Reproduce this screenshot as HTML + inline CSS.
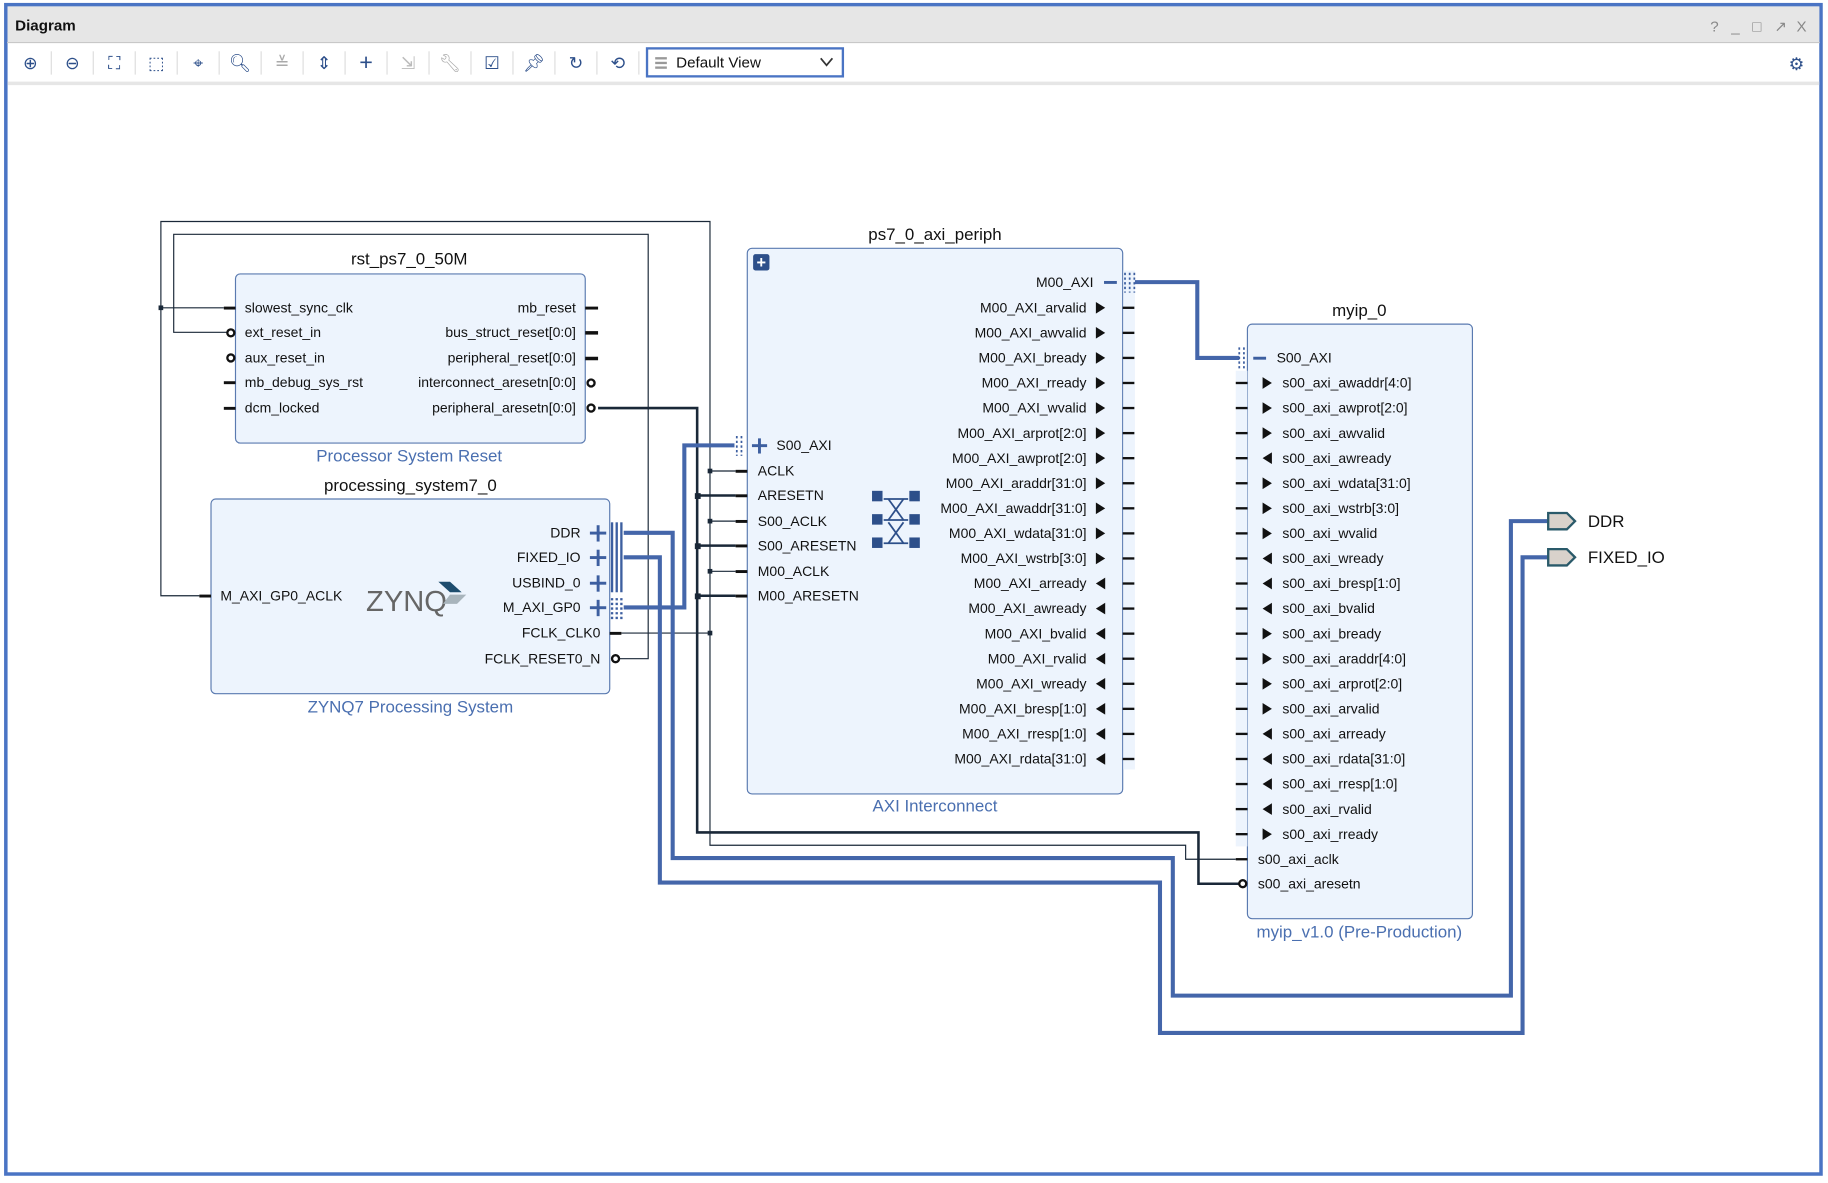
<!DOCTYPE html>
<html><head><meta charset="utf-8"><style>
html,body{margin:0;padding:0;background:#fff;}
svg{display:block;}
text{font-family:"Liberation Sans",sans-serif;}
</style></head><body>
<svg width="1828" height="1183" viewBox="0 0 1568 1014.7" preserveAspectRatio="none" xmlns="http://www.w3.org/2000/svg">
<rect x="0" y="0" width="1568" height="1015" fill="#fff"/>
<!-- window frame -->
<rect x="5" y="4" width="1557" height="1003" fill="#fff" stroke="#4a74c4" stroke-width="3"/>
<rect x="6.5" y="5.5" width="1554" height="31" fill="#e6e6e6"/>
<line x1="6" y1="36.5" x2="1561" y2="36.5" stroke="#c8c8c8"/>
<text x="13" y="26" font-size="13" font-weight="bold" fill="#111">Diagram</text>
<g font-size="13" fill="#888"><text x="1467" y="27">?</text><text x="1485" y="27">_</text><text x="1503" y="27">□</text><text x="1522" y="27">↗</text><text x="1541" y="27">X</text></g>
<rect x="6.5" y="70" width="1554" height="3" fill="#e6e6e6"/>
<!-- toolbar icons -->
<g font-size="15" fill="#2d4f8a" text-anchor="middle">
<text x="26" y="59">⊕</text><text x="62" y="59">⊖</text><text x="98" y="59">⛶</text><text x="134" y="59">⬚</text><text x="170" y="59">⌖</text><text x="206" y="59">🔍︎</text><text x="242" y="59" fill="#aaa">≚</text><text x="278" y="59">⇕</text><text x="314" y="60" font-size="20">+</text><text x="350" y="59" fill="#bbb">⇲</text><text x="386" y="59" fill="#aaa">🔧︎</text><text x="422" y="59">☑</text><text x="458" y="59">📌︎</text><text x="494" y="59">↻</text><text x="530" y="59">⟲</text>
</g>
<g stroke="#ddd"><line x1="44" y1="44" x2="44" y2="64"/><line x1="80" y1="44" x2="80" y2="64"/><line x1="116" y1="44" x2="116" y2="64"/><line x1="152" y1="44" x2="152" y2="64"/><line x1="188" y1="44" x2="188" y2="64"/><line x1="224" y1="44" x2="224" y2="64"/><line x1="260" y1="44" x2="260" y2="64"/><line x1="296" y1="44" x2="296" y2="64"/><line x1="332" y1="44" x2="332" y2="64"/><line x1="368" y1="44" x2="368" y2="64"/><line x1="404" y1="44" x2="404" y2="64"/><line x1="440" y1="44" x2="440" y2="64"/><line x1="476" y1="44" x2="476" y2="64"/><line x1="512" y1="44" x2="512" y2="64"/><line x1="548" y1="44" x2="548" y2="64"/></g>
<rect x="555" y="41.5" width="168" height="24" fill="#fff" stroke="#4a74c4" stroke-width="2"/>
<g fill="#999"><rect x="562" y="49" width="10" height="2"/><rect x="562" y="53" width="10" height="2"/><rect x="562" y="57" width="10" height="2"/></g>
<text x="580" y="58" font-size="13" fill="#111">Default View</text>
<polyline points="704,50 709,56 714,50" fill="none" stroke="#333" stroke-width="1.5"/>
<text x="1541" y="60" font-size="15" fill="#2d4f8a" text-anchor="middle">⚙</text>

<!-- thin dark wires -->
<g fill="none" stroke="#1a2838" stroke-width="1">
<polyline points="192,264 138,264 138,190 609,190 609,725 1017,725 1017,737 1060,737"/>
<polyline points="138,264 138,511 171,511"/>
<polyline points="197,285 149,285 149,201 556,201 556,565 530,565"/>
<line x1="533" y1="543" x2="609" y2="543"/>
<line x1="609" y1="404" x2="631" y2="404"/><line x1="609" y1="447" x2="631" y2="447"/><line x1="609" y1="490" x2="631" y2="490"/>
</g>
<g fill="none" stroke="#1a2838" stroke-width="2.2">
<polyline points="513,350 598,350 598,714 1028,714 1028,758 1063,758"/>
<line x1="598" y1="425" x2="631" y2="425"/><line x1="598" y1="468" x2="631" y2="468"/><line x1="598" y1="511" x2="631" y2="511"/>
</g>
<g fill="#1a2838"><rect x="136" y="262" width="4" height="4"/><rect x="607" y="402" width="4" height="4"/><rect x="607" y="445" width="4" height="4"/><rect x="607" y="488" width="4" height="4"/><rect x="607" y="541" width="4" height="4"/>
<rect x="596" y="423" width="5" height="5"/><rect x="596" y="466" width="5" height="5"/><rect x="596" y="509" width="5" height="5"/></g>
<!-- buses -->
<g fill="none" stroke="#4466aa" stroke-width="3.5">
<polyline points="535,521 587,521 587,382 630,382"/>
<polyline points="535,457 577,457 577,736 1006,736 1006,854 1296,854 1296,447 1328,447"/>
<polyline points="535,478 566,478 566,757 995,757 995,886 1306,886 1306,478 1328,478"/>
<polyline points="972,242 1027,242 1027,307 1063,307"/>
</g>

<!-- rst block -->
<text x="351" y="227" font-size="14.5" text-anchor="middle" fill="#111">rst_ps7_0_50M</text>
<rect x="202" y="235" width="300" height="145" rx="4" fill="#edf4fd" stroke="#5a7ab0"/>
<text x="351" y="396" font-size="14.5" text-anchor="middle" fill="#4a6fb0">Processor System Reset</text>
<g font-size="12" fill="#111">
<text x="210" y="268">slowest_sync_clk</text><text x="210" y="289">ext_reset_in</text><text x="210" y="311">aux_reset_in</text><text x="210" y="332">mb_debug_sys_rst</text><text x="210" y="354">dcm_locked</text>
<g text-anchor="end"><text x="494" y="268">mb_reset</text><text x="494" y="289">bus_struct_reset[0:0]</text><text x="494" y="311">peripheral_reset[0:0]</text><text x="494" y="332">interconnect_aresetn[0:0]</text><text x="494" y="354">peripheral_aresetn[0:0]</text></g>
</g>
<g fill="#111"><rect x="192" y="263" width="10" height="2.5"/><rect x="192" y="327" width="10" height="2.5"/><rect x="192" y="349" width="10" height="2.5"/>
<rect x="502" y="263" width="11" height="2.5"/><rect x="502" y="284" width="11" height="3"/><rect x="502" y="306" width="11" height="3"/></g>
<g fill="#fff" stroke="#111" stroke-width="2"><circle cx="198" cy="285.5" r="3"/><circle cx="198" cy="307" r="3"/><circle cx="507" cy="328.5" r="3"/><circle cx="507" cy="350" r="3"/></g>

<!-- processing system -->
<text x="352" y="421" font-size="14.5" text-anchor="middle" fill="#111">processing_system7_0</text>
<rect x="181" y="428" width="342" height="167" rx="4" fill="#edf4fd" stroke="#5a7ab0"/>
<text x="352" y="611" font-size="14.5" text-anchor="middle" fill="#4a6fb0">ZYNQ7 Processing System</text>
<g font-size="12" fill="#111">
<text x="189" y="515">M_AXI_GP0_ACLK</text>
<g text-anchor="end"><text x="498" y="461">DDR</text><text x="498" y="482">FIXED_IO</text><text x="498" y="504">USBIND_0</text><text x="498" y="525">M_AXI_GP0</text><text x="515" y="547">FCLK_CLK0</text><text x="515" y="569">FCLK_RESET0_N</text></g>
</g>
<text x="314" y="524" font-size="25" fill="#666">ZYNQ</text>
<polygon points="376,499 386,499 396,508 386,508" fill="#1e4d6e"/><polygon points="386,510 400,510 392,518 380,518" fill="#a8b4bc"/>
<g fill="#111"><rect x="171" y="510" width="10" height="2.5"/><rect x="523" y="542" width="10" height="2.5"/></g>
<circle cx="528" cy="565" r="3" fill="#fff" stroke="#111" stroke-width="2"/>
<g fill="#3d5fa0"><rect x="506" y="456" width="14" height="2.5"/><rect x="511.8" y="450.5" width="2.5" height="14"/>
<rect x="506" y="477" width="14" height="2.5"/><rect x="511.8" y="471.5" width="2.5" height="14"/>
<rect x="506" y="499" width="14" height="2.5"/><rect x="511.8" y="493.5" width="2.5" height="14"/>
<rect x="506" y="520" width="14" height="2.5"/><rect x="511.8" y="514.5" width="2.5" height="14"/>
<rect x="524" y="448" width="2" height="60"/><rect x="528" y="448" width="2" height="60"/><rect x="532" y="448" width="2" height="60"/></g>
<g stroke="#3d5fa0" stroke-width="2" stroke-dasharray="2,2"><line x1="525" y1="513" x2="525" y2="531"/><line x1="529" y1="513" x2="529" y2="531"/><line x1="533" y1="513" x2="533" y2="531"/></g>

<!-- axi periph -->
<text x="802" y="206" font-size="14.5" text-anchor="middle" fill="#111">ps7_0_axi_periph</text>
<rect x="641" y="213" width="322" height="468" rx="4" fill="#edf4fd" stroke="#5a7ab0"/>
<rect x="963.5" y="232" width="10" height="428" fill="#edf4fd"/>
<text x="802" y="696" font-size="14.5" text-anchor="middle" fill="#4a6fb0">AXI Interconnect</text>
<rect x="646" y="218" width="14" height="14" rx="2" fill="#2d4f8a"/><text x="653" y="230" font-size="14" fill="#fff" text-anchor="middle" font-weight="bold">+</text>
<g font-size="12" fill="#111">
<text x="666" y="386">S00_AXI</text><text x="650" y="408">ACLK</text><text x="650" y="429">ARESETN</text><text x="650" y="451">S00_ACLK</text><text x="650" y="472">S00_ARESETN</text><text x="650" y="494">M00_ACLK</text><text x="650" y="515">M00_ARESETN</text>
<g text-anchor="end">
<text x="938" y="246">M00_AXI</text>
<text x="932" y="268">M00_AXI_arvalid</text><text x="932" y="289.5">M00_AXI_awvalid</text><text x="932" y="311">M00_AXI_bready</text><text x="932" y="332.5">M00_AXI_rready</text><text x="932" y="354">M00_AXI_wvalid</text><text x="932" y="375.5">M00_AXI_arprot[2:0]</text><text x="932" y="397">M00_AXI_awprot[2:0]</text><text x="932" y="418.5">M00_AXI_araddr[31:0]</text><text x="932" y="440">M00_AXI_awaddr[31:0]</text><text x="932" y="461.5">M00_AXI_wdata[31:0]</text><text x="932" y="483">M00_AXI_wstrb[3:0]</text><text x="932" y="504.5">M00_AXI_arready</text><text x="932" y="526">M00_AXI_awready</text><text x="932" y="547.5">M00_AXI_bvalid</text><text x="932" y="569">M00_AXI_rvalid</text><text x="932" y="590.5">M00_AXI_wready</text><text x="932" y="612">M00_AXI_bresp[1:0]</text><text x="932" y="633.5">M00_AXI_rresp[1:0]</text><text x="932" y="655">M00_AXI_rdata[31:0]</text>
</g></g>
<g fill="#3d5fa0"><rect x="645" y="381" width="13" height="2.5"/><rect x="650.2" y="376" width="2.5" height="13"/><rect x="947" y="241" width="11" height="2.5"/></g>
<g stroke="#3d5fa0" stroke-width="1.5" stroke-dasharray="2,2"><line x1="632" y1="374" x2="632" y2="391"/><line x1="636" y1="374" x2="636" y2="391"/><line x1="965" y1="234" x2="965" y2="251"/><line x1="969" y1="234" x2="969" y2="251"/><line x1="973" y1="234" x2="973" y2="251"/></g>
<g fill="#111"><rect x="631" y="403" width="10" height="2.5"/><rect x="631" y="424" width="10" height="2.5"/><rect x="631" y="446" width="10" height="2.5"/><rect x="631" y="467" width="10" height="2.5"/><rect x="631" y="489" width="10" height="2.5"/><rect x="631" y="510" width="10" height="2.5"/></g>
<g fill="#111">
<polygon points="940,259 948,264 940,269"/><polygon points="940,280.5 948,285.5 940,290.5"/><polygon points="940,302 948,307 940,312"/><polygon points="940,323.5 948,328.5 940,333.5"/><polygon points="940,345 948,350 940,355"/><polygon points="940,366.5 948,371.5 940,376.5"/><polygon points="940,388 948,393 940,398"/><polygon points="940,409.5 948,414.5 940,419.5"/><polygon points="940,431 948,436 940,441"/><polygon points="940,452.5 948,457.5 940,462.5"/><polygon points="940,474 948,479 940,484"/>
<polygon points="948,495.5 940,500.5 948,505.5"/><polygon points="948,517 940,522 948,527"/><polygon points="948,538.5 940,543.5 948,548.5"/><polygon points="948,560 940,565 948,570"/><polygon points="948,581.5 940,586.5 948,591.5"/><polygon points="948,603 940,608 948,613"/><polygon points="948,624.5 940,629.5 948,634.5"/><polygon points="948,646 940,651 948,656"/>
<rect x="963" y="263" width="10" height="2"/><rect x="963" y="284.5" width="10" height="2"/><rect x="963" y="306" width="10" height="2"/><rect x="963" y="327.5" width="10" height="2"/><rect x="963" y="349" width="10" height="2"/><rect x="963" y="370.5" width="10" height="2"/><rect x="963" y="392" width="10" height="2"/><rect x="963" y="413.5" width="10" height="2"/><rect x="963" y="435" width="10" height="2"/><rect x="963" y="456.5" width="10" height="2"/><rect x="963" y="478" width="10" height="2"/><rect x="963" y="499.5" width="10" height="2"/><rect x="963" y="521" width="10" height="2"/><rect x="963" y="542.5" width="10" height="2"/><rect x="963" y="564" width="10" height="2"/><rect x="963" y="585.5" width="10" height="2"/><rect x="963" y="607" width="10" height="2"/><rect x="963" y="628.5" width="10" height="2"/><rect x="963" y="650" width="10" height="2"/>
</g>
<!-- crossbar icon -->
<g fill="#2d4f8a"><rect x="748" y="421" width="9" height="9"/><rect x="748" y="441" width="9" height="9"/><rect x="748" y="461" width="9" height="9"/><rect x="780" y="421" width="9" height="9"/><rect x="780" y="441" width="9" height="9"/><rect x="780" y="461" width="9" height="9"/></g>
<g stroke="#2d4f8a" stroke-width="1.5" fill="none"><line x1="758" y1="428" x2="779" y2="428"/><line x1="758" y1="446" x2="779" y2="446"/><line x1="758" y1="466" x2="779" y2="466"/><line x1="762" y1="428" x2="775" y2="446"/><line x1="775" y1="428" x2="762" y2="446"/><line x1="762" y1="448" x2="775" y2="466"/><line x1="775" y1="448" x2="762" y2="466"/></g>

<!-- myip -->
<text x="1166" y="271" font-size="14.5" text-anchor="middle" fill="#111">myip_0</text>
<rect x="1070" y="278" width="193" height="510" rx="4" fill="#edf4fd" stroke="#5a7ab0"/>
<rect x="1060" y="318" width="10" height="408" fill="#edf4fd"/>
<text x="1166" y="804" font-size="14.5" text-anchor="middle" fill="#4a6fb0">myip_v1.0 (Pre-Production)</text>
<rect x="1075" y="306" width="11" height="2.5" fill="#3d5fa0"/>
<g stroke="#3d5fa0" stroke-width="1.5" stroke-dasharray="2,2"><line x1="1063" y1="298" x2="1063" y2="316"/><line x1="1067" y1="298" x2="1067" y2="316"/></g>
<g font-size="12" fill="#111">
<text x="1095" y="311">S00_AXI</text>
<text x="1100" y="332.5">s00_axi_awaddr[4:0]</text><text x="1100" y="354">s00_axi_awprot[2:0]</text><text x="1100" y="375.5">s00_axi_awvalid</text><text x="1100" y="397">s00_axi_awready</text><text x="1100" y="418.5">s00_axi_wdata[31:0]</text><text x="1100" y="440">s00_axi_wstrb[3:0]</text><text x="1100" y="461.5">s00_axi_wvalid</text><text x="1100" y="483">s00_axi_wready</text><text x="1100" y="504.5">s00_axi_bresp[1:0]</text><text x="1100" y="526">s00_axi_bvalid</text><text x="1100" y="547.5">s00_axi_bready</text><text x="1100" y="569">s00_axi_araddr[4:0]</text><text x="1100" y="590.5">s00_axi_arprot[2:0]</text><text x="1100" y="612">s00_axi_arvalid</text><text x="1100" y="633.5">s00_axi_arready</text><text x="1100" y="655">s00_axi_rdata[31:0]</text><text x="1100" y="676.5">s00_axi_rresp[1:0]</text><text x="1100" y="698">s00_axi_rvalid</text><text x="1100" y="719.5">s00_axi_rready</text>
<text x="1079" y="741">s00_axi_aclk</text><text x="1079" y="762">s00_axi_aresetn</text>
</g>
<g fill="#111">
<polygon points="1083,323.5 1091,328.5 1083,333.5"/><polygon points="1083,345 1091,350 1083,355"/><polygon points="1083,366.5 1091,371.5 1083,376.5"/><polygon points="1091,388 1083,393 1091,398"/><polygon points="1083,409.5 1091,414.5 1083,419.5"/><polygon points="1083,431 1091,436 1083,441"/><polygon points="1083,452.5 1091,457.5 1083,462.5"/><polygon points="1091,474 1083,479 1091,484"/><polygon points="1091,495.5 1083,500.5 1091,505.5"/><polygon points="1091,517 1083,522 1091,527"/><polygon points="1083,538.5 1091,543.5 1083,548.5"/><polygon points="1083,560 1091,565 1083,570"/><polygon points="1083,581.5 1091,586.5 1083,591.5"/><polygon points="1083,603 1091,608 1083,613"/><polygon points="1091,624.5 1083,629.5 1091,634.5"/><polygon points="1091,646 1083,651 1091,656"/><polygon points="1091,667.5 1083,672.5 1091,677.5"/><polygon points="1091,689 1083,694 1091,699"/><polygon points="1083,710.5 1091,715.5 1083,720.5"/>
<rect x="1060" y="327.5" width="10" height="2"/><rect x="1060" y="349" width="10" height="2"/><rect x="1060" y="370.5" width="10" height="2"/><rect x="1060" y="392" width="10" height="2"/><rect x="1060" y="413.5" width="10" height="2"/><rect x="1060" y="435" width="10" height="2"/><rect x="1060" y="456.5" width="10" height="2"/><rect x="1060" y="478" width="10" height="2"/><rect x="1060" y="499.5" width="10" height="2"/><rect x="1060" y="521" width="10" height="2"/><rect x="1060" y="542.5" width="10" height="2"/><rect x="1060" y="564" width="10" height="2"/><rect x="1060" y="585.5" width="10" height="2"/><rect x="1060" y="607" width="10" height="2"/><rect x="1060" y="628.5" width="10" height="2"/><rect x="1060" y="650" width="10" height="2"/><rect x="1060" y="671.5" width="10" height="2"/><rect x="1060" y="693" width="10" height="2"/><rect x="1060" y="714.5" width="10" height="2"/>
<rect x="1060" y="736" width="10" height="2"/>
</g>
<circle cx="1066" cy="758" r="3" fill="#fff" stroke="#111" stroke-width="2"/>

<!-- external ports -->
<g fill="#d9d2cb" stroke="#2a5a6a" stroke-width="2"><polygon points="1328,440 1344,440 1351,447 1344,454 1328,454"/><polygon points="1328,471 1344,471 1351,478 1344,485 1328,485"/></g>
<g font-size="14.5" fill="#111"><text x="1362" y="452">DDR</text><text x="1362" y="483">FIXED_IO</text></g>
</svg>
</body></html>
